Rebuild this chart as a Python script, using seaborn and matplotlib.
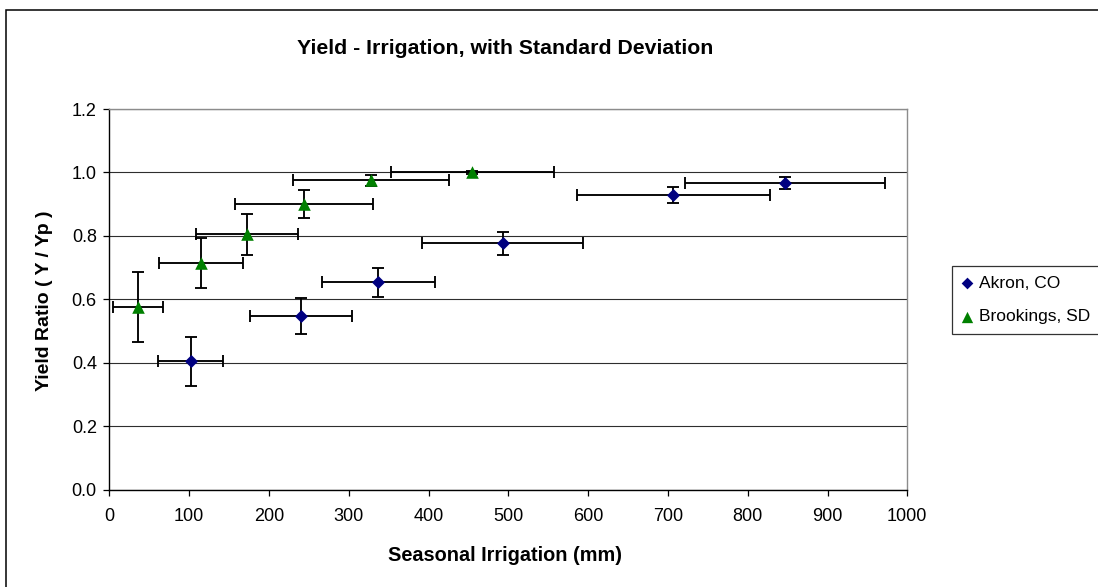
import matplotlib
matplotlib.use("Agg")
import matplotlib.pyplot as plt
from matplotlib.patches import Rectangle
import seaborn as sns

# Akron, CO: mean seasonal irrigation (mm) and yield ratio, each with its standard deviation
akron_irrigation = [102, 240, 337, 493, 707, 847]
akron_irrigation_sd = [41, 64, 71, 101, 121, 125]
akron_yield_ratio = [0.404, 0.547, 0.653, 0.776, 0.930, 0.967]
akron_yield_sd = [0.078, 0.058, 0.047, 0.036, 0.025, 0.019]

# Brookings, SD
brookings_irrigation = [36, 115, 173, 244, 328, 455]
brookings_irrigation_sd = [31, 53, 64, 87, 98, 102]
brookings_yield_ratio = [0.575, 0.715, 0.805, 0.900, 0.975, 1.000]
brookings_yield_sd = [0.110, 0.078, 0.065, 0.045, 0.017, 0.005]

x_ticks = [0, 100, 200, 300, 400, 500, 600, 700, 800, 900, 1000]
y_ticks = [0.0, 0.2, 0.4, 0.6, 0.8, 1.0, 1.2]

sns.set_style("white")
plt.rcParams["font.family"] = ["Liberation Sans", "DejaVu Sans"]
plt.rcParams["text.color"] = "black"
plt.rcParams["xtick.color"] = "black"
plt.rcParams["ytick.color"] = "black"
plt.rcParams["axes.labelcolor"] = "black"

W, H = 1098, 587
fig = plt.figure(figsize=(W / 100, H / 100), dpi=100)

# outer chart frame (only top and left edges fall inside the canvas)
fig.patches.append(Rectangle((6 / W, -0.2), 1.3, 1.2 - 10 / H,
                             transform=fig.transFigure, fill=False,
                             edgecolor="black", linewidth=1.1, zorder=0))

ax_l, ax_r, ax_t, ax_b = 109.3, 907.3, 109.0, 489.5
ax = fig.add_axes([ax_l / W, 1 - ax_b / H, (ax_r - ax_l) / W, (ax_b - ax_t) / H])

# error bars first, markers on top
ax.errorbar(akron_irrigation, akron_yield_ratio, xerr=akron_irrigation_sd,
            yerr=akron_yield_sd, fmt="none", ecolor="black", elinewidth=1.35,
            capsize=4.5, capthick=1.35, zorder=2)
ax.errorbar(brookings_irrigation, brookings_yield_ratio, xerr=brookings_irrigation_sd,
            yerr=brookings_yield_sd, fmt="none", ecolor="black", elinewidth=1.35,
            capsize=4.5, capthick=1.35, zorder=2)

sns.scatterplot(x=akron_irrigation, y=akron_yield_ratio, marker="D", color="#000080",
                s=44, linewidth=0, label="Akron, CO", ax=ax, zorder=3)
sns.scatterplot(x=brookings_irrigation, y=brookings_yield_ratio, marker="^",
                color="#008000", s=82, linewidth=0, label="Brookings, SD", ax=ax, zorder=3)

ax.set_xlim(0, 1000)
ax.set_ylim(0, 1.2)
ax.set_xticks(x_ticks)
ax.set_yticks(y_ticks)
ax.set_xticklabels([f"{v}" for v in x_ticks])
ax.set_yticklabels([f"{v:.1f}" for v in y_ticks])

ax.yaxis.grid(True, color="#2e2e2e", linewidth=0.8)
ax.xaxis.grid(False)
ax.set_axisbelow(True)

for side in ("left", "bottom"):
    ax.spines[side].set_color("black")
    ax.spines[side].set_linewidth(1.0)
for side in ("top", "right"):
    ax.spines[side].set_color("#8c8c8c")
    ax.spines[side].set_linewidth(1.0)

ax.tick_params(axis="both", which="major", direction="out", length=4, width=0.9,
               color="black", labelcolor="black", labelsize=13, bottom=True, left=True)
ax.tick_params(axis="x", pad=9)
ax.tick_params(axis="y", pad=5)

ax.set_xlabel("")
ax.set_ylabel("")
fig.text(505 / W, 1 - 561 / H, "Seasonal Irrigation (mm)", color="black",
         ha="center", va="baseline", fontsize=14.3, fontweight="bold")
fig.text(53 / W, 1 - 301 / H, "Yield Ratio ( Y / Yp )", rotation=90, color="black",
         ha="right", va="center", fontsize=14, fontweight="bold")
fig.text(505 / W, 1 - 54 / H, "Yield - Irrigation, with Standard Deviation", color="black",
         ha="center", va="baseline", fontsize=15.3, fontweight="bold")

leg = ax.legend(loc="upper left", bbox_to_anchor=(951.7 / W, 1 - 266 / H),
                bbox_transform=fig.transFigure, frameon=True, fancybox=False,
                edgecolor="black", fontsize=12.5, handlelength=0.7,
                handletextpad=0.35, borderpad=0.55, labelspacing=1.05,
                borderaxespad=0, markerscale=0.9)
leg.get_frame().set_linewidth(0.9)
for t in leg.get_texts():
    t.set_color("black")

fig.savefig("out.png", dpi=100)
